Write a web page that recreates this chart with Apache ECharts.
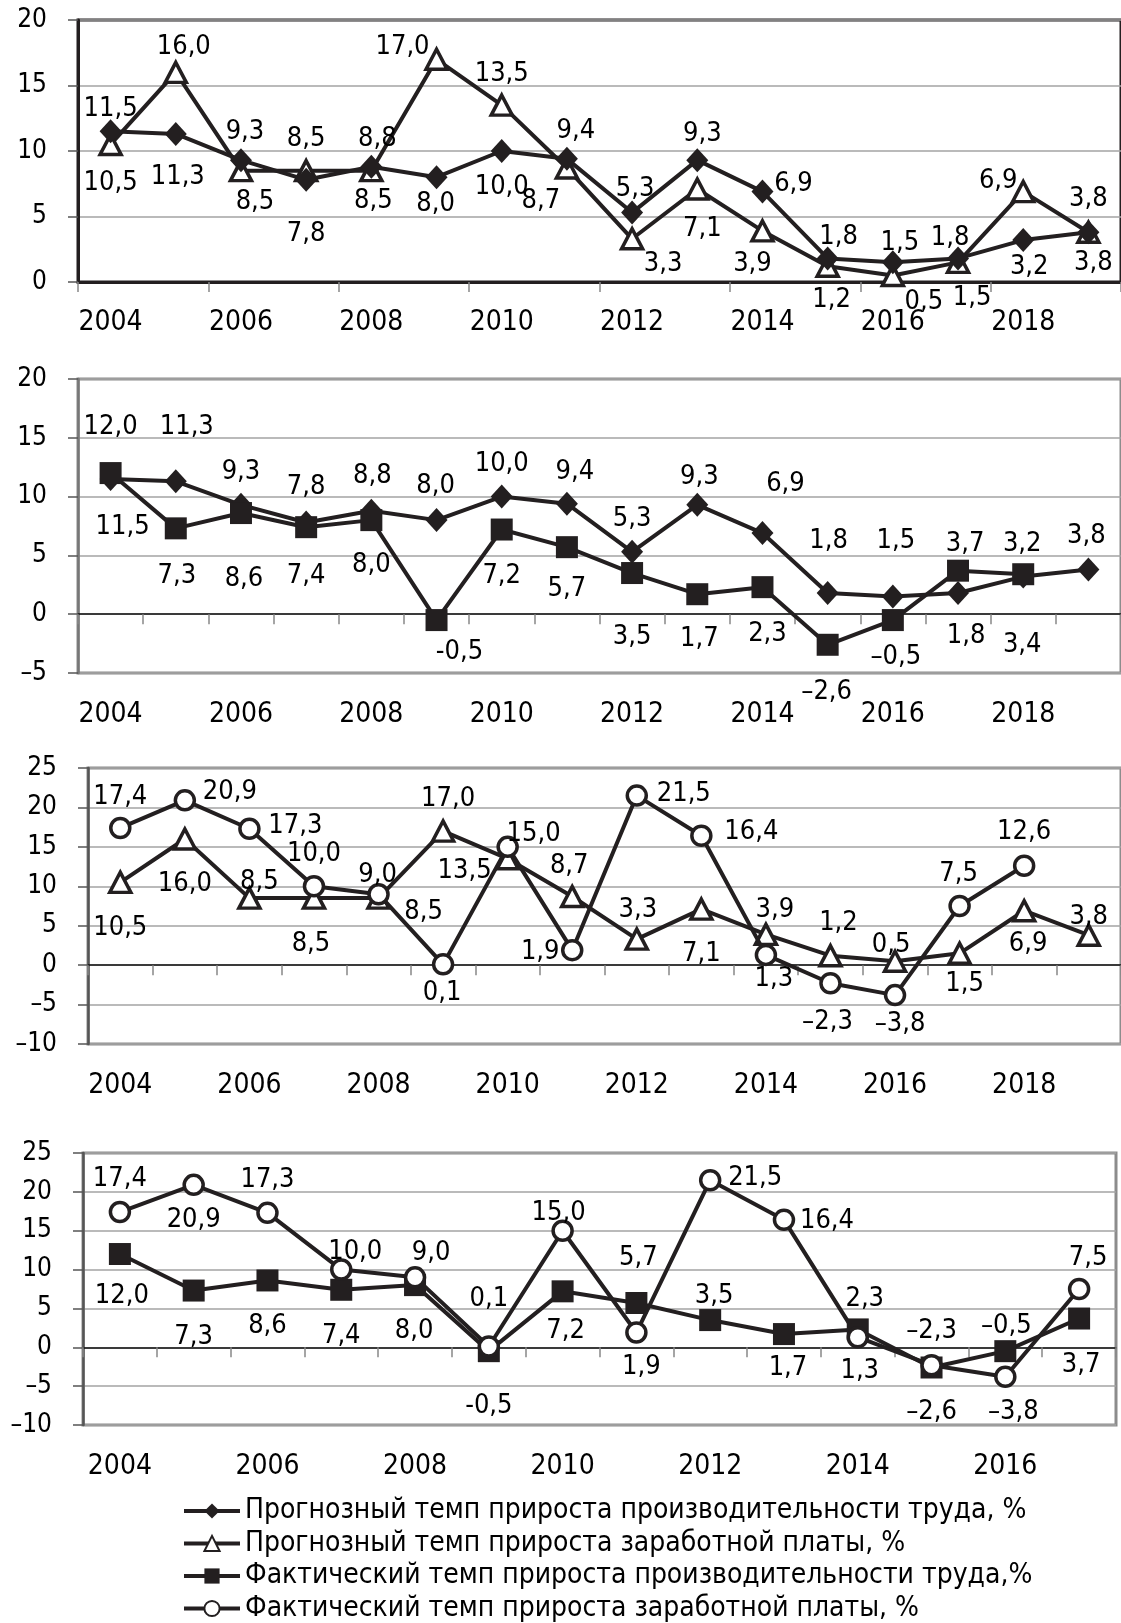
<!DOCTYPE html>
<html>
<head>
<meta charset="utf-8">
<script src="https://cdn.jsdelivr.net/npm/echarts@6/dist/echarts.min.js"></script>
<style>
  html, body { margin: 0; padding: 0; background: #fff; }
  #chart { width: 1121px; height: 1623px; }
</style>
</head>
<body>
<div id="chart"></div>
<script>
// ---- data ----
const years = ['2004', '2005', '2006', '2007', '2008', '2009', '2010', '2011',
               '2012', '2013', '2014', '2015', '2016', '2017', '2018', '2019'];
const yearsTo2017 = years.slice(0, 14);

const seriesNames = [
  'Прогнозный темп прироста производительности труда, %',
  'Прогнозный темп прироста заработной платы, %',
  'Фактический темп прироста производительности труда,%',
  'Фактический темп прироста заработной платы, %'
];

const forecastProductivity = [11.5, 11.3, 9.3, 7.8, 8.8, 8.0, 10.0, 9.4, 5.3, 9.3, 6.9, 1.8, 1.5, 1.8, 3.2, 3.8];
const forecastWages        = [10.5, 16.0, 8.5, 8.5, 8.5, 17.0, 13.5, 8.7, 3.3, 7.1, 3.9, 1.2, 0.5, 1.5, 6.9, 3.8];
const actualProductivity   = [12.0, 7.3, 8.6, 7.4, 8.0, -0.5, 7.2, 5.7, 3.5, 1.7, 2.3, -2.6, -0.5, 3.7, 3.4];
const actualWages          = [17.4, 20.9, 17.3, 10.0, 9.0, 0.1, 15.0, 1.9, 21.5, 16.4, 1.3, -2.3, -3.8, 7.5, 12.6];

// y ranges of the four panels
const yRange1 = [0, 20];
const yRange2 = [-5, 20];
const yRange3 = [-10, 25];
const yRange4 = [-10, 25];

// ---- label placement (pixel offsets from each marker) ----
const p1ProdOffsets  = [[0,-26],[2,39],[4,-32],[0,50],[6,-32],[-1,23],[0,32],[9,-32],[3,-28],[5,-30],[31,-12],[11,-25],[7,-23],[-8,-24],[6,23],[5,27]];
const p1WageOffsets  = [[0,35],[8,-29],[14,27],[0,-36],[2,26],[-34,-16],[0,-35],[-26,29],[31,21],[5,36],[-10,29],[4,30],[31,23],[14,32],[-25,-15],[0,-37]];
const p2ProdOffsets  = [[12,44],[11,-58],[0,-37],[0,-39],[1,-39],[-1,-38],[0,-37],[8,-36],[0,-37],[2,-32],[23,-53],[1,-56],[3,-60],[8,39],[-1,-37],[-2,-38]];
const p2ActPOffsets  = [[0,-50],[1,44],[3,62],[0,45],[0,41],[23,28],[0,42],[0,38],[0,60],[2,41],[5,43],[-1,43],[3,33],[7,-31],[-1,67]];
const p3WageOffsets  = [[0,42],[0,41],[10,-20],[-3,42],[45,10],[5,-36],[-43,8],[-3,-35],[1,-33],[0,41],[9,-28],[8,-37],[-4,-20],[5,27],[4,29],[0,-22]];
const p3ActWOffsets  = [[0,-35],[45,-12],[46,-7],[0,-36],[-1,-23],[-1,25],[26,-17],[-32,-2],[47,-6],[50,-8],[8,20],[-3,35],[5,25],[-1,-36],[0,-38]];
const p4ActPOffsets  = [[2,38],[0,42],[0,42],[0,42],[-1,42],[0,51],[3,36],[2,-49],[4,-28],[4,30],[7,-34],[0,40],[1,-29],[2,42]];
const p4ActWOffsets  = [[0,-37],[0,31],[0,-37],[14,-22],[16,-28],[0,-52],[-4,-22],[5,30],[45,-6],[43,-3],[2,30],[0,-38],[8,31],[9,-35]];
// the glyphs sit a little high in their box, so every value label is nudged down
const LABEL_SHIFT_Y = 4;

// ---- styles ----
const FONT = '"DejaVu Sans Condensed", "DejaVu Sans", sans-serif';
const INK = '#231f20';
const TEXT = '#000';

function fmtValue(v, year) {
  const s = Math.abs(v).toFixed(1).replace('.', ',');
  if (v < 0) return (year === '2009' ? '-' : '\u2013') + s;
  return s;
}
function fmtTick(v) {
  return v < 0 ? '\u2013' + Math.abs(v) : String(v);
}

const markers = {
  diamond:  { symbol: 'diamond',  symbolSize: [22, 24], itemStyle: { color: INK, borderColor: INK, borderWidth: 0 } },
  triangle: { symbol: 'triangle', symbolSize: [21, 20], itemStyle: { color: '#fff', borderColor: INK, borderWidth: 3.5 } },
  square:   { symbol: 'rect',     symbolSize: [22, 22], itemStyle: { color: INK, borderColor: INK, borderWidth: 0 } },
  circle:   { symbol: 'circle',   symbolSize: [19, 19], itemStyle: { color: '#fff', borderColor: INK, borderWidth: 3.5 } }
};
const markerOf = ['diamond', 'triangle', 'square', 'circle'];

const option = {
  animation: false,
  backgroundColor: '#fff',
  grid: [], xAxis: [], yAxis: [], series: [],
  legend: {
    orient: 'vertical',
    left: 182, top: 1497,
    padding: 0,
    itemWidth: 56, itemHeight: 19, itemGap: 4.5,
    lineStyle: { width: 4 },
    textStyle: { fontSize: 28, lineHeight: 28, color: TEXT, fontFamily: FONT },
    data: seriesNames
  }
};

function addPanel(cfg) {
  const gi = option.grid.length;
  option.grid.push({
    left: cfg.left, top: cfg.top, width: cfg.width, height: cfg.height,
    show: true, borderColor: cfg.borderColor, borderWidth: 3
  });
  option.yAxis.push({
    type: 'value', gridIndex: gi, min: cfg.yRange[0], max: cfg.yRange[1], interval: 5,
    axisLine: { show: true, lineStyle: { color: cfg.yAxisColor, width: cfg.yAxisWidth } },
    axisTick: { show: true, length: 10, lineStyle: { color: '#555', width: 1.5 } },
    axisLabel: { fontSize: 26, margin: 31, color: TEXT, fontFamily: FONT, formatter: fmtTick },
    splitLine: { show: true, lineStyle: { color: '#a3a3a3', width: 1.5 } }
  });
  const yi = option.yAxis.length - 1;

  // axis through zero carrying the marks and the ticks
  option.xAxis.push({
    type: 'category', gridIndex: gi, data: cfg.cats, boundaryGap: true, position: 'bottom',
    axisLine: { show: true, onZero: true, lineStyle: { color: cfg.zeroColor, width: cfg.zeroWidth } },
    axisTick: { show: true, interval: cfg.tickInterval, length: 10, lineStyle: { color: '#888', width: 1.5 } },
    axisLabel: { show: cfg.labelsOnZeroAxis, interval: 1, margin: 27, fontSize: 28, color: TEXT, fontFamily: FONT },
    splitLine: { show: false }
  });
  const xi = option.xAxis.length - 1;
  if (!cfg.labelsOnZeroAxis) {
    // year labels along the bottom edge
    option.xAxis.push({
      type: 'category', gridIndex: gi, data: cfg.cats, boundaryGap: true, position: 'bottom',
      axisLine: { show: false, onZero: false },
      axisTick: { show: false },
      axisLabel: { show: true, interval: 1, margin: 28, fontSize: 28, color: TEXT, fontFamily: FONT },
      splitLine: { show: false }
    });
  }

  cfg.lines.forEach(function (ln) {
    const m = markers[markerOf[ln.kind]];
    option.series.push({
      name: seriesNames[ln.kind],
      type: 'line',
      xAxisIndex: xi, yAxisIndex: yi,
      symbol: m.symbol, symbolSize: m.symbolSize, showAllSymbol: true,
      itemStyle: m.itemStyle,
      lineStyle: { color: INK, width: 4 },
      z: ln.z || 2,
      label: {
        show: true, position: 'inside', fontSize: 27, color: TEXT, fontFamily: FONT,
        formatter: function (p) { return fmtValue(p.value, p.name); }
      },
      data: ln.values.map(function (v, i) {
        const o = ln.offsets[i];
        return { value: v, label: { offset: [o[0], o[1] + LABEL_SHIFT_Y] } };
      })
    });
  });
}

addPanel({
  left: 78, top: 20, width: 1043, height: 262,
  borderColor: INK, yAxisColor: INK, yAxisWidth: 3, zeroColor: INK, zeroWidth: 3,
  yRange: yRange1, cats: years, tickInterval: 1, labelsOnZeroAxis: true,
  lines: [
    { kind: 1, values: forecastWages, offsets: p1WageOffsets, z: 2 },
    { kind: 0, values: forecastProductivity, offsets: p1ProdOffsets, z: 3 }
  ]
});
addPanel({
  left: 78, top: 379, width: 1043, height: 294,
  borderColor: '#8c8c8c', yAxisColor: '#777', yAxisWidth: 2.5, zeroColor: '#111', zeroWidth: 1.5,
  yRange: yRange2, cats: years, tickInterval: 0, labelsOnZeroAxis: false,
  lines: [
    { kind: 0, values: forecastProductivity, offsets: p2ProdOffsets, z: 2 },
    { kind: 2, values: actualProductivity, offsets: p2ActPOffsets, z: 3 }
  ]
});
addPanel({
  left: 88, top: 768, width: 1034, height: 276,
  borderColor: '#8c8c8c', yAxisColor: '#555', yAxisWidth: 2.5, zeroColor: '#111', zeroWidth: 1.5,
  yRange: yRange3, cats: years, tickInterval: 0, labelsOnZeroAxis: false,
  lines: [
    { kind: 1, values: forecastWages, offsets: p3WageOffsets, z: 2 },
    { kind: 3, values: actualWages, offsets: p3ActWOffsets, z: 3 }
  ]
});
addPanel({
  left: 83, top: 1153, width: 1033, height: 272,
  borderColor: '#8c8c8c', yAxisColor: '#555', yAxisWidth: 2.5, zeroColor: '#111', zeroWidth: 1.5,
  yRange: yRange4, cats: yearsTo2017, tickInterval: 0, labelsOnZeroAxis: false,
  lines: [
    { kind: 2, values: actualProductivity.slice(0, 14), offsets: p4ActPOffsets, z: 2 },
    { kind: 3, values: actualWages.slice(0, 14), offsets: p4ActWOffsets, z: 3 }
  ]
});

const chart = echarts.init(document.getElementById('chart'), null, { renderer: 'canvas' });
chart.setOption(option);
</script>
</body>
</html>
